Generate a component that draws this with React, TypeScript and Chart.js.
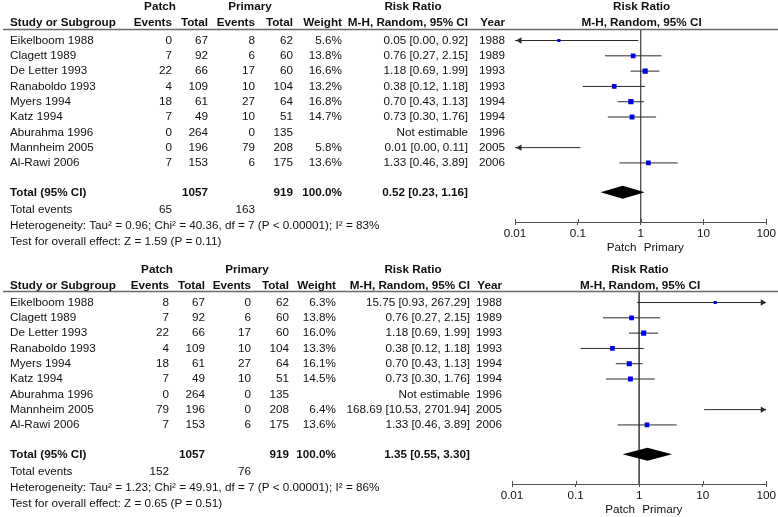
import React, { useEffect, useRef } from "react";
import { Chart, registerables } from "chart.js";

Chart.register(...registerables);

const FONT = "'Liberation Sans', Arial, Helvetica, sans-serif";
const FS = 11.7;
const TEXT = "#111111";

// ---- shared data ----
const studies = [
  "Eikelboom 1988",
  "Clagett 1989",
  "De Letter 1993",
  "Ranaboldo 1993",
  "Myers 1994",
  "Katz 1994",
  "Aburahma 1996",
  "Mannheim 2005",
  "Al-Rawi 2006",
];
const years = ["1988", "1989", "1993", "1993", "1994", "1994", "1996", "2005", "2006"];
const xTickValues = [0.01, 0.1, 1, 10, 100];
const xTickLabels = ["0.01", "0.1", "1", "10", "100"];
const XMIN = 0.01;
const XMAX = 100;

// ---- panel 1 (top) ----
const p1PatchEvents = [0, 7, 22, 4, 18, 7, 0, 0, 7];
const p1PatchTotal = [67, 92, 66, 109, 61, 49, 264, 196, 153];
const p1PrimEvents = [8, 6, 17, 10, 27, 10, 0, 79, 6];
const p1PrimTotal = [62, 60, 60, 104, 64, 51, 135, 208, 175];
const p1Weight = [5.6, 13.8, 16.6, 13.2, 16.8, 14.7, null, 5.8, 13.6];
const p1RR = [0.05, 0.76, 1.18, 0.38, 0.7, 0.73, null, 0.01, 1.33];
const p1Lo = [0.0, 0.27, 0.69, 0.12, 0.43, 0.3, null, 0.0, 0.46];
const p1Hi = [0.92, 2.15, 1.99, 1.18, 1.13, 1.76, null, 0.11, 3.89];
const p1Totals = [1057, 919];
const p1TotalRR = [0.52, 0.23, 1.16];
const p1TotalEvents = [65, 163];
const p1Het = "Heterogeneity: Tau² = 0.96; Chi² = 40.36, df = 7 (P < 0.00001); I² = 83%";
const p1Test = "Test for overall effect: Z = 1.59 (P = 0.11)";

// ---- panel 2 (bottom) ----
const p2PatchEvents = [8, 7, 22, 4, 18, 7, 0, 79, 7];
const p2PatchTotal = [67, 92, 66, 109, 61, 49, 264, 196, 153];
const p2PrimEvents = [0, 6, 17, 10, 27, 10, 0, 0, 6];
const p2PrimTotal = [62, 60, 60, 104, 64, 51, 135, 208, 175];
const p2Weight = [6.3, 13.8, 16.0, 13.3, 16.1, 14.5, null, 6.4, 13.6];
const p2RR = [15.75, 0.76, 1.18, 0.38, 0.7, 0.73, null, 168.69, 1.33];
const p2Lo = [0.93, 0.27, 0.69, 0.12, 0.43, 0.3, null, 10.53, 0.46];
const p2Hi = [267.29, 2.15, 1.99, 1.18, 1.13, 1.76, null, 2701.94, 3.89];
const p2Totals = [1057, 919];
const p2TotalRR = [1.35, 0.55, 3.3];
const p2TotalEvents = [152, 76];
const p2Het = "Heterogeneity: Tau² = 1.23; Chi² = 49.91, df = 7 (P < 0.00001); I² = 86%";
const p2Test = "Test for overall effect: Z = 0.65 (P = 0.51)";

type PanelData = {
  patchEvents: number[];
  patchTotal: number[];
  primEvents: number[];
  primTotal: number[];
  weight: (number | null)[];
  rr: (number | null)[];
  lo: (number | null)[];
  hi: (number | null)[];
  totals: number[];
  totalRR: number[];
  totalEvents: number[];
  het: string;
  test: string;
};

type Layout = {
  height: number;
  padLeft: number;
  head1: number;
  head2: number;
  cols: {
    name: number;
    pE: number;
    pT: number;
    qE: number;
    qT: number;
    w: number;
    rr: number;
    yr: number;
    patchC: number;
    primC: number;
    rrHeadC: number;
  };
};

const panel1: PanelData = {
  patchEvents: p1PatchEvents,
  patchTotal: p1PatchTotal,
  primEvents: p1PrimEvents,
  primTotal: p1PrimTotal,
  weight: p1Weight,
  rr: p1RR,
  lo: p1Lo,
  hi: p1Hi,
  totals: p1Totals,
  totalRR: p1TotalRR,
  totalEvents: p1TotalEvents,
  het: p1Het,
  test: p1Test,
};

const panel2: PanelData = {
  patchEvents: p2PatchEvents,
  patchTotal: p2PatchTotal,
  primEvents: p2PrimEvents,
  primTotal: p2PrimTotal,
  weight: p2Weight,
  rr: p2RR,
  lo: p2Lo,
  hi: p2Hi,
  totals: p2Totals,
  totalRR: p2TotalRR,
  totalEvents: p2TotalEvents,
  het: p2Het,
  test: p2Test,
};

const layout1: Layout = {
  height: 262,
  padLeft: 515,
  head1: 7,
  head2: 22.7,
  cols: { name: 10, pE: 172, pT: 208, qE: 255, qT: 293, w: 342, rr: 468, yr: 505, patchC: 160, primC: 250, rrHeadC: 413 },
};

const layout2: Layout = {
  height: 255,
  padLeft: 512,
  head1: 8,
  head2: 23.7,
  cols: { name: 10, pE: 169, pT: 205, qE: 251, qT: 289, w: 336, rr: 470, yr: 502, patchC: 157, primC: 247, rrHeadC: 413 },
};

// y-geometry (row units)
const YMIN = -0.72;
const YMAX = 11.86;
const TOTAL_ROW = 9.92;
const EVENTS_ROW = 11.05;
const HET_ROW = 12.1;
const TEST_ROW = 13.15;
const AXIS_Y = 222;
const AXIS_H = 18;

const f2 = (v: number) => v.toFixed(2);
const clampX = (v: number) => Math.min(Math.max(v, XMIN), XMAX);

function ForestPanel({ panel, lay }: { panel: PanelData; lay: Layout }) {
  const ref = useRef<HTMLCanvasElement>(null);

  useEffect(() => {
    const canvas = ref.current;
    if (!canvas) return;

    const datasets: any[] = [];
    const pts: { x: number; y: number }[] = [];
    const radii: number[] = [];
    panel.rr.forEach((v, i) => {
      if (v == null) return;
      const w = panel.weight[i] as number;
      if (v > XMIN && v < XMAX) {
        pts.push({ x: v, y: i });
        radii.push(0.9 * Math.sqrt(w));
      }
    });
    // squares on top
    datasets.push({
      data: pts,
      pointStyle: "rect",
      pointRadius: (c: any) => radii[c.dataIndex] ?? 2,
      pointHoverRadius: (c: any) => radii[c.dataIndex] ?? 2,
      backgroundColor: "#0000e6",
      borderWidth: 0,
      showLine: false,
    });
    // CI lines
    panel.rr.forEach((v, i) => {
      if (v == null) return;
      const lo = panel.lo[i] as number;
      const hi = panel.hi[i] as number;
      datasets.push({
        data: [
          { x: clampX(lo), y: i },
          { x: clampX(hi), y: i },
        ],
        showLine: true,
        borderColor: "#2a2a2a",
        borderWidth: 1,
        pointRadius: 0,
        pointHoverRadius: 0,
      });
    });
    // line of no effect
    datasets.push({
      data: [
        { x: 1, y: YMIN },
        { x: 1, y: YMAX },
      ],
      showLine: true,
      borderColor: "#505050",
      borderWidth: 1,
      pointRadius: 0,
      pointHoverRadius: 0,
    });

    const txt = (ctx: CanvasRenderingContext2D, s: string, x: number, y: number, align: CanvasTextAlign, bold = false) => {
      ctx.font = `${bold ? "bold " : ""}${FS}px ${FONT}`;
      ctx.textAlign = align;
      ctx.textBaseline = "middle";
      ctx.fillStyle = TEXT;
      ctx.fillText(s, x, y);
    };

    const marksPlugin = {
      id: "forestMarks",
      afterDatasetsDraw(chart: any) {
        const ctx: CanvasRenderingContext2D = chart.ctx;
        const xs = chart.scales.x;
        const ys = chart.scales.y;
        const ca = chart.chartArea;
        ctx.save();
        // arrows
        ctx.fillStyle = "#2a2a2a";
        panel.rr.forEach((v, i) => {
          if (v == null) return;
          const lo = panel.lo[i] as number;
          const hi = panel.hi[i] as number;
          const y = ys.getPixelForValue(i);
          if (lo < XMIN) {
            const x = xs.getPixelForValue(XMIN) + 1;
            ctx.beginPath();
            ctx.moveTo(x, y);
            ctx.lineTo(x + 5.5, y - 3.2);
            ctx.lineTo(x + 5.5, y + 3.2);
            ctx.closePath();
            ctx.fill();
          }
          if (hi > XMAX) {
            const x = xs.getPixelForValue(XMAX);
            ctx.beginPath();
            ctx.moveTo(x, y);
            ctx.lineTo(x - 5.5, y - 3.2);
            ctx.lineTo(x - 5.5, y + 3.2);
            ctx.closePath();
            ctx.fill();
          }
        });
        // upward part of axis tick marks (ticks cross the axis)
        ctx.strokeStyle = "#505050";
        ctx.lineWidth = 1;
        xTickValues.forEach((v) => {
          const x = Math.round(xs.getPixelForValue(v)) + 0.5;
          ctx.beginPath();
          ctx.moveTo(x, ca.bottom - 3);
          ctx.lineTo(x, ca.bottom);
          ctx.stroke();
        });
        // diamond
        const [est, tlo, thi] = panel.totalRR;
        const yT = ys.getPixelForValue(TOTAL_ROW);
        ctx.fillStyle = "#000000";
        ctx.beginPath();
        ctx.moveTo(xs.getPixelForValue(tlo), yT);
        ctx.lineTo(xs.getPixelForValue(est), yT - 6.5);
        ctx.lineTo(xs.getPixelForValue(thi), yT);
        ctx.lineTo(xs.getPixelForValue(est), yT + 6.5);
        ctx.closePath();
        ctx.fill();
        ctx.restore();
      },
    };

    const tablePlugin = {
      id: "forestTable",
      afterDraw(chart: any) {
        const ctx: CanvasRenderingContext2D = chart.ctx;
        const xs = chart.scales.x;
        const ys = chart.scales.y;
        const ca = chart.chartArea;
        const c = lay.cols;
        ctx.save();
        // header rule
        ctx.strokeStyle = "#6a6a6a";
        ctx.lineWidth = 1.5;
        ctx.beginPath();
        ctx.moveTo(3, ca.top);
        ctx.lineTo(778, ca.top);
        ctx.stroke();

        // headers
        txt(ctx, "Patch", c.patchC, lay.head1, "center", true);
        txt(ctx, "Primary", c.primC, lay.head1, "center", true);
        txt(ctx, "Risk Ratio", c.rrHeadC, lay.head1, "center", true);
        const plotC = (ca.left + ca.right) / 2 + 1;
        txt(ctx, "Risk Ratio", plotC, lay.head1, "center", true);
        txt(ctx, "Study or Subgroup", c.name, lay.head2, "left", true);
        txt(ctx, "Events", c.pE, lay.head2, "right", true);
        txt(ctx, "Total", c.pT, lay.head2, "right", true);
        txt(ctx, "Events", c.qE, lay.head2, "right", true);
        txt(ctx, "Total", c.qT, lay.head2, "right", true);
        txt(ctx, "Weight", c.w, lay.head2, "right", true);
        txt(ctx, "M-H, Random, 95% CI", c.rr, lay.head2, "right", true);
        txt(ctx, "Year", c.yr, lay.head2, "right", true);
        txt(ctx, "M-H, Random, 95% CI", plotC, lay.head2, "center", true);

        // study rows
        studies.forEach((s, i) => {
          const y = ys.getPixelForValue(i);
          txt(ctx, s, c.name, y, "left");
          txt(ctx, String(panel.patchEvents[i]), c.pE, y, "right");
          txt(ctx, String(panel.patchTotal[i]), c.pT, y, "right");
          txt(ctx, String(panel.primEvents[i]), c.qE, y, "right");
          txt(ctx, String(panel.primTotal[i]), c.qT, y, "right");
          const w = panel.weight[i];
          if (w != null) txt(ctx, `${w.toFixed(1)}%`, c.w, y, "right");
          const v = panel.rr[i];
          const rrText =
            v == null
              ? "Not estimable"
              : `${f2(v)} [${f2(panel.lo[i] as number)}, ${f2(panel.hi[i] as number)}]`;
          txt(ctx, rrText, c.rr, y, "right");
          txt(ctx, years[i], c.yr, y, "right");
        });

        // totals
        const yT = ys.getPixelForValue(TOTAL_ROW);
        txt(ctx, "Total (95% CI)", c.name, yT, "left", true);
        txt(ctx, String(panel.totals[0]), c.pT, yT, "right", true);
        txt(ctx, String(panel.totals[1]), c.qT, yT, "right", true);
        const wSum = panel.weight.reduce((a: number, b) => a + (b ?? 0), 0);
        txt(ctx, `${(Math.round(wSum / 10) * 10).toFixed(1)}%`, c.w, yT, "right", true);
        const [e, l, h] = panel.totalRR;
        txt(ctx, `${f2(e)} [${f2(l)}, ${f2(h)}]`, c.rr, yT, "right", true);

        const yE = ys.getPixelForValue(EVENTS_ROW);
        txt(ctx, "Total events", c.name, yE, "left");
        txt(ctx, String(panel.totalEvents[0]), c.pE, yE, "right");
        txt(ctx, String(panel.totalEvents[1]), c.qE, yE, "right");
        txt(ctx, panel.het, c.name, ys.getPixelForValue(HET_ROW), "left");
        txt(ctx, panel.test, c.name, ys.getPixelForValue(TEST_ROW), "left");

        // favours labels
        const x1 = xs.getPixelForValue(1);
        const yF = ca.bottom + 25.5;
        txt(ctx, "Patch", x1 - 4, yF, "right");
        txt(ctx, "Primary", x1 + 3, yF, "left");
        ctx.restore();
      },
    };

    const chart = new Chart(canvas, {
      type: "scatter",
      data: { datasets },
      options: {
        responsive: false,
        animation: false,
        events: [],
        layout: {
          padding: {
            left: lay.padLeft,
            right: 11,
            top: 29.5,
            bottom: lay.height - AXIS_Y - AXIS_H,
          },
        },
        plugins: {
          legend: { display: false },
          tooltip: { enabled: false },
        },
        scales: {
          x: {
            type: "logarithmic",
            min: XMIN,
            max: XMAX,
            position: "bottom",
            afterBuildTicks: (s: any) => {
              s.ticks = xTickValues.map((v) => ({ value: v }));
            },
            afterFit: (s: any) => {
              s.height = AXIS_H;
            },
            ticks: {
              autoSkip: false,
              maxRotation: 0,
              padding: 2,
              color: TEXT,
              font: { family: FONT, size: FS },
              callback: (_v: any, i: number) => xTickLabels[i],
            },
            grid: {
              display: true,
              drawOnChartArea: false,
              drawTicks: true,
              tickLength: 3,
              color: "#505050",
            },
            border: { display: true, color: "#505050", width: 1 },
          },
          y: {
            type: "linear",
            display: false,
            min: YMIN,
            max: YMAX,
            reverse: true,
          },
        },
      } as any,
      plugins: [marksPlugin, tablePlugin],
    });
    return () => chart.destroy();
  }, [panel, lay]);

  return (
    <canvas
      ref={ref}
      width={778}
      height={lay.height}
      style={{ display: "block", width: 778, height: lay.height }}
    />
  );
}

export default function App() {
  return (
    <div
      style={{
        position: "absolute",
        left: 0,
        top: 0,
        width: 778,
        height: 517,
        overflow: "hidden",
        background: "#ffffff",
      }}
    >
      <ForestPanel panel={panel1} lay={layout1} />
      <ForestPanel panel={panel2} lay={layout2} />
    </div>
  );
}
